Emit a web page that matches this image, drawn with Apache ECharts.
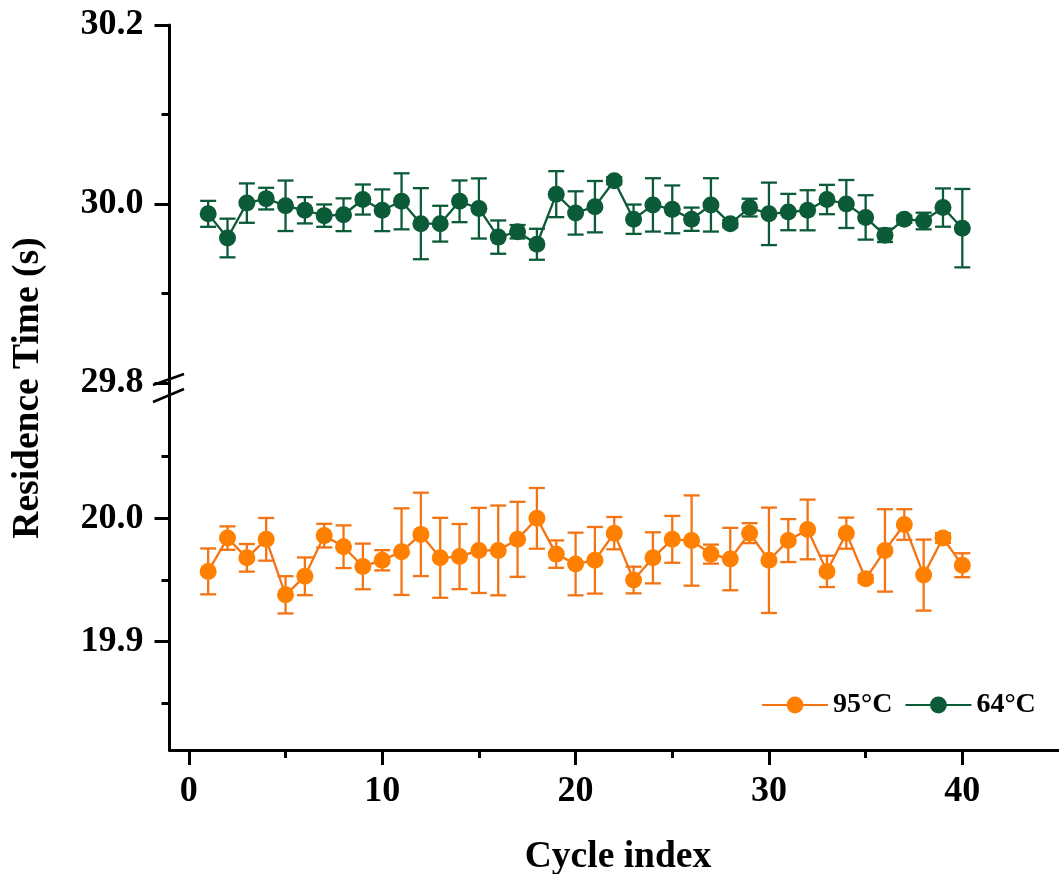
<!DOCTYPE html>
<html><head><meta charset="utf-8">
<script src="https://cdn.jsdelivr.net/npm/echarts@6/dist/echarts.min.js"></script>
<style>html,body{margin:0;padding:0;background:#fff;}#c{width:1059px;height:874px;}</style>
</head><body><div id="c"></div>
<script>
const cycles = [1,2,3,4,5,6,7,8,9,10,11,12,13,14,15,16,17,18,19,20,21,22,23,24,25,26,27,28,29,30,31,32,33,34,35,36,37,38,39,40];
const mean95 = [19.957,19.984,19.968,19.983,19.938,19.953,19.986,19.977,19.961,19.966,19.973,19.987,19.968,19.969,19.974,19.974,19.983,20.000,19.971,19.963,19.966,19.988,19.950,19.968,19.983,19.982,19.971,19.967,19.988,19.966,19.982,19.991,19.957,19.988,19.951,19.974,19.995,19.954,19.984,19.962];
const err95 = [0.0186,0.0095,0.0112,0.0173,0.0151,0.0153,0.0096,0.0173,0.0185,0.0082,0.0351,0.0338,0.0324,0.0264,0.0345,0.0364,0.0304,0.0246,0.0111,0.0254,0.0270,0.0131,0.0108,0.0207,0.0190,0.0366,0.0077,0.0253,0.0081,0.0427,0.0174,0.0242,0.0127,0.0126,0.0030,0.0334,0.0124,0.0288,0.0040,0.0097];
const mean64 = [29.989,29.962,30.001,30.006,29.998,29.993,29.987,29.988,30.005,29.993,30.003,29.978,29.978,30.003,29.995,29.963,29.969,29.955,30.011,29.990,29.997,30.026,29.983,29.999,29.994,29.983,29.999,29.978,29.996,29.989,29.991,29.993,30.005,30.000,29.985,29.965,29.983,29.981,29.996,29.973];
const err64 = [0.0145,0.0216,0.0220,0.0121,0.0282,0.0147,0.0125,0.0183,0.0168,0.0233,0.0313,0.0397,0.0200,0.0233,0.0336,0.0186,0.0075,0.0173,0.0257,0.0242,0.0287,0.0040,0.0164,0.0298,0.0267,0.0130,0.0298,0.0040,0.0099,0.0349,0.0203,0.0224,0.0164,0.0268,0.0248,0.0075,0.0040,0.0093,0.0214,0.0438];
const seriesNames = ['95°C', '64°C'];
const xMajorTicks = [0, 10, 20, 30, 40];
const xMinorTicks = [5, 15, 25, 35];
const topMajorTicks = [29.8, 30.0, 30.2];
const topMinorTicks = [29.9, 30.1];
const bottomMajorTicks = [19.9, 20.0];
const bottomMinorTicks = [19.85, 19.95, 20.05];
const xTitle = 'Cycle index';
const yTitle = 'Residence Time (s)';

const FONT = '"Liberation Serif","Times New Roman",serif';
const ORANGE_FILL = '#FF8000';
const ORANGE_LINE = '#F47312';
const GREEN = '#0B5A38';

const chart = echarts.init(document.getElementById('c'), null, {renderer: 'canvas'});

const GL = 169.5, GW = 898;
const lineStyleAxis = {color: '#000', width: 3};

function majorX(gi) {
  return {type: 'value', gridIndex: gi, min: -1, max: 45, position: 'bottom',
    axisLine: {show: true, onZero: false, lineStyle: lineStyleAxis},
    axisTick: {show: true, customValues: xMajorTicks, length: 15, lineStyle: {color: '#000', width: 3}},
    axisLabel: {show: true, customValues: xMajorTicks, margin: 24, color: '#000',
      fontFamily: FONT, fontWeight: 'bold', fontSize: 36},
    splitLine: {show: false}};
}
function minorX(gi) {
  return {type: 'value', gridIndex: gi, min: -1, max: 45, position: 'bottom',
    axisLine: {show: false, onZero: false},
    axisTick: {show: true, customValues: xMinorTicks, length: 8, lineStyle: {color: '#000', width: 3}},
    axisLabel: {show: false}, splitLine: {show: false}};
}
function majorY(gi, mn, mx, ticks) {
  return {type: 'value', gridIndex: gi, min: mn, max: mx, position: 'left',
    axisLine: {show: true, onZero: false, lineStyle: lineStyleAxis},
    axisTick: {show: true, customValues: ticks, length: 15, lineStyle: {color: '#000', width: 3}},
    axisLabel: {show: true, customValues: ticks, margin: 26, color: '#000',
      fontFamily: FONT, fontWeight: 'bold', fontSize: 36,
      formatter: v => Number(v).toFixed(1)},
    splitLine: {show: false}};
}
function minorY(gi, mn, mx, ticks) {
  return {type: 'value', gridIndex: gi, min: mn, max: mx, position: 'left',
    axisLine: {show: false, onZero: false},
    axisTick: {show: true, customValues: ticks, length: 8, lineStyle: {color: '#000', width: 3}},
    axisLabel: {show: false}, splitLine: {show: false}};
}

function errRender(color) {
  return function (params, api) {
    const x = api.value(0), m = api.value(1), e = api.value(2);
    const t = api.coord([x, m + e]), b = api.coord([x, m - e]);
    const hw = 8;
    const style = {stroke: color, lineWidth: 2.3, fill: null};
    return {type: 'group', children: [
      {type: 'line', shape: {x1: t[0], y1: t[1], x2: b[0], y2: b[1]}, style: style},
      {type: 'line', shape: {x1: t[0] - hw, y1: t[1], x2: t[0] + hw, y2: t[1]}, style: style},
      {type: 'line', shape: {x1: b[0] - hw, y1: b[1], x2: b[0] + hw, y2: b[1]}, style: style}
    ]};
  };
}

const d95 = cycles.map((c, i) => [c, mean95[i]]);
const e95 = cycles.map((c, i) => [c, mean95[i], err95[i]]);
const d64 = cycles.map((c, i) => [c, mean64[i]]);
const e64 = cycles.map((c, i) => [c, mean64[i], err64[i]]);

const option = {
  backgroundColor: '#fff',
  animation: false,
  grid: [
    {left: GL, top: 25, width: GW, height: 358, containLabel: false},
    {left: GL, top: 395, width: GW, height: 355, containLabel: false}
  ],
  xAxis: [
    Object.assign(minorX(0), {show: false}),
    majorX(1),
    minorX(1)
  ],
  yAxis: [
    majorY(0, 29.8, 30.2, topMajorTicks),
    minorY(0, 29.8, 30.2, topMinorTicks),
    majorY(1, 19.8122, 20.1, bottomMajorTicks),
    minorY(1, 19.8122, 20.1, bottomMinorTicks)
  ],
  legend: {
    data: seriesNames,
    left: 756, top: 686,
    itemWidth: 66, itemHeight: 21, itemGap: 12,
    textStyle: {fontFamily: FONT, fontWeight: 'bold', fontSize: 28, color: '#000'}
  },
  series: [
    {name: 'err95', type: 'custom', xAxisIndex: 1, yAxisIndex: 2, renderItem: errRender(ORANGE_LINE),
      encode: {x: 0, y: 1}, data: e95, z: 1, silent: true},
    {name: seriesNames[0], type: 'line', xAxisIndex: 1, yAxisIndex: 2, data: d95,
      symbol: 'circle', symbolSize: 17, z: 3,
      lineStyle: {color: ORANGE_LINE, width: 2.3},
      itemStyle: {color: ORANGE_FILL, borderColor: ORANGE_FILL, borderWidth: 0}},
    {name: 'err64', type: 'custom', xAxisIndex: 0, yAxisIndex: 0, renderItem: errRender(GREEN),
      encode: {x: 0, y: 1}, data: e64, z: 1, silent: true},
    {name: seriesNames[1], type: 'line', xAxisIndex: 0, yAxisIndex: 0, data: d64,
      symbol: 'circle', symbolSize: 17, z: 3,
      lineStyle: {color: GREEN, width: 2.3},
      itemStyle: {color: GREEN, borderColor: GREEN, borderWidth: 0}}
  ],
  graphic: [
    {type: 'line', shape: {x1: GL, y1: 381, x2: GL, y2: 397}, style: {stroke: '#000', lineWidth: 3}, z: 10},
    {type: 'line', shape: {x1: 153, y1: 385, x2: 184, y2: 374}, style: {stroke: '#000', lineWidth: 2.5}, z: 10},
    {type: 'line', shape: {x1: 153, y1: 402, x2: 184, y2: 389}, style: {stroke: '#000', lineWidth: 2.5}, z: 10},
    {type: 'text', x: 28, y: 388, rotation: Math.PI / 2,
      style: {text: yTitle, fontFamily: FONT, fontWeight: 'bold', fontSize: 37.5, fill: '#000',
        align: 'center', verticalAlign: 'middle'}, z: 10},
    {type: 'text', x: 618, y: 857,
      style: {text: xTitle, fontFamily: FONT, fontWeight: 'bold', fontSize: 37.5, fill: '#000',
        align: 'center', verticalAlign: 'middle'}, z: 10}
  ]
};
chart.setOption(option);
</script>
</body></html>
